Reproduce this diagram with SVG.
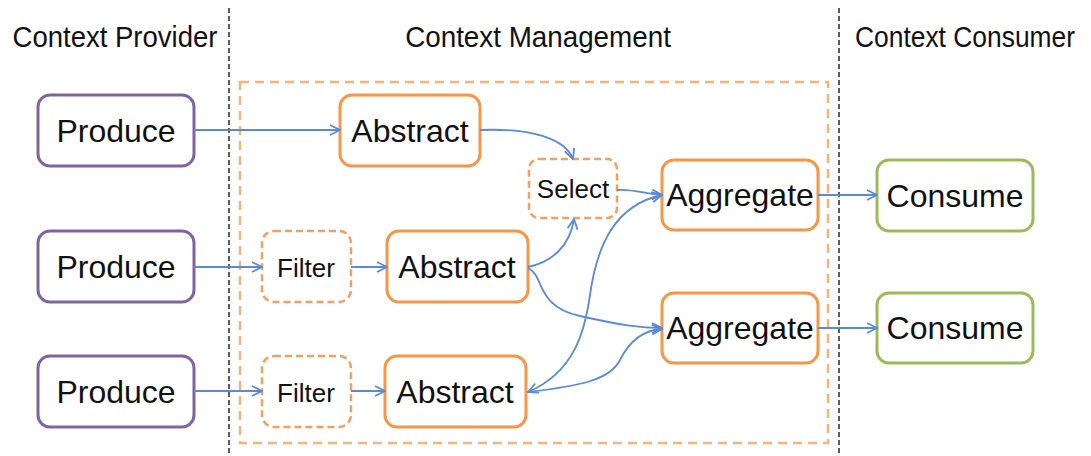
<svg xmlns="http://www.w3.org/2000/svg" width="1091" height="456" viewBox="0 0 1091 456">
<style>
text{font-family:"Liberation Sans",Arial,sans-serif;fill:#111;text-anchor:middle}
.title{font-size:30px}
.big{font-size:32px}
.small{font-size:26px}
.prov{fill:#fff;stroke:#8064a2;stroke-width:3}
.mgmt{fill:#fff;stroke:#f79646;stroke-width:3}
.opt{fill:#fff;stroke:#f0a060;stroke-width:2.5;stroke-dasharray:7 4}
.cons{fill:#fff;stroke:#9bbb59;stroke-width:3}
.sep{stroke:#333;stroke-width:1.6;stroke-dasharray:5 3;fill:none}
.zone{fill:none;stroke:#f5b47e;stroke-width:2.5;stroke-dasharray:9 6}
.conn{fill:none;stroke:#5b8ad0;stroke-width:1.8}
</style>
<defs>
<marker id="arr" viewBox="0 0 12 12" refX="11" refY="6" markerWidth="12" markerHeight="12" markerUnits="userSpaceOnUse" orient="auto-start-reverse">
<path d="M1,1 L11,6 L1,11" fill="none" stroke="#5b8ad0" stroke-width="1.8"/>
</marker>
</defs>
<rect width="1091" height="456" fill="#fff"/>
<g id="separators">
<line class="sep" x1="229" y1="8" x2="229" y2="456"/>
<line class="sep" x1="839" y1="8" x2="839" y2="456"/>
<rect class="zone" x="240" y="82" width="588" height="361"/>
</g>
<g id="titles">
<text class="title" transform="translate(115,47) scale(0.918,1)">Context Provider</text>
<text class="title" transform="translate(538,47) scale(0.927,1)">Context Management</text>
<text class="title" transform="translate(965,47) scale(0.88,1)">Context Consumer</text>
</g>
<g id="produce1"><rect class="prov" x="38" y="95" width="156" height="71" rx="12"/><text class="big" x="116" y="142">Produce</text></g>
<g id="produce2"><rect class="prov" x="38" y="231" width="156" height="71" rx="12"/><text class="big" x="116" y="278">Produce</text></g>
<g id="produce3"><rect class="prov" x="38" y="356" width="156" height="71" rx="12"/><text class="big" x="116" y="403">Produce</text></g>
<g id="abstract1"><rect class="mgmt" x="340" y="95" width="140" height="71" rx="12"/><text class="big" x="410" y="142">Abstract</text></g>
<g id="select"><rect class="opt" x="529" y="159" width="88" height="59" rx="10"/><text class="small" x="573" y="198">Select</text></g>
<g id="filter1"><rect class="opt" x="262" y="231" width="89" height="71" rx="12"/><text class="small" x="306" y="277">Filter</text></g>
<g id="abstract2"><rect class="mgmt" x="387" y="231" width="141" height="71" rx="12"/><text class="big" x="457" y="278">Abstract</text></g>
<g id="filter2"><rect class="opt" x="262" y="356" width="89" height="71" rx="12"/><text class="small" x="306" y="402">Filter</text></g>
<g id="abstract3"><rect class="mgmt" x="385" y="356" width="141" height="71" rx="12"/><text class="big" x="455" y="403">Abstract</text></g>
<g id="aggregate1"><rect class="mgmt" x="662" y="160" width="156" height="70" rx="12"/><text class="big" x="740" y="206">Aggregate</text></g>
<g id="aggregate2"><rect class="mgmt" x="662" y="293" width="156" height="70" rx="12"/><text class="big" x="740" y="339">Aggregate</text></g>
<g id="consume1"><rect class="cons" x="877" y="160" width="156" height="71" rx="12"/><text class="big" x="955" y="207">Consume</text></g>
<g id="consume2"><rect class="cons" x="877" y="293" width="156" height="70" rx="12"/><text class="big" x="955" y="339">Consume</text></g>
<g id="connectors">
<path class="conn" d="M194,130 L340,130" marker-end="url(#arr)"/>
<path class="conn" d="M194,267 L262,267" marker-end="url(#arr)"/>
<path class="conn" d="M194,391 L262,391" marker-end="url(#arr)"/>
<path class="conn" d="M351,267 L387,267" marker-end="url(#arr)"/>
<path class="conn" d="M351,391 L385,391" marker-end="url(#arr)"/>
<path class="conn" d="M480,130 C530,128 565,138 573,159" marker-end="url(#arr)"/>
<path class="conn" d="M528,267 C552,262 570,246 574,219" marker-end="url(#arr)"/>
<path class="conn" d="M617,190 C635,189 645,194 662,195" marker-end="url(#arr)"/>
<path class="conn" d="M528,268 C545,276 535,306 580,316 C620,325 640,328 662,328" marker-end="url(#arr)"/>
<path class="conn" d="M528,392 C575,372 585,330 590,295 C597,245 615,205 662,195" marker-start="url(#arr)" marker-end="url(#arr)"/>
<path class="conn" d="M528,392 C580,386 610,380 620,360 C630,340 645,330 662,329" marker-end="url(#arr)"/>
<path class="conn" d="M818,195 L877,195" marker-end="url(#arr)"/>
<path class="conn" d="M818,328 L877,328" marker-end="url(#arr)"/>
</g>
</svg>
